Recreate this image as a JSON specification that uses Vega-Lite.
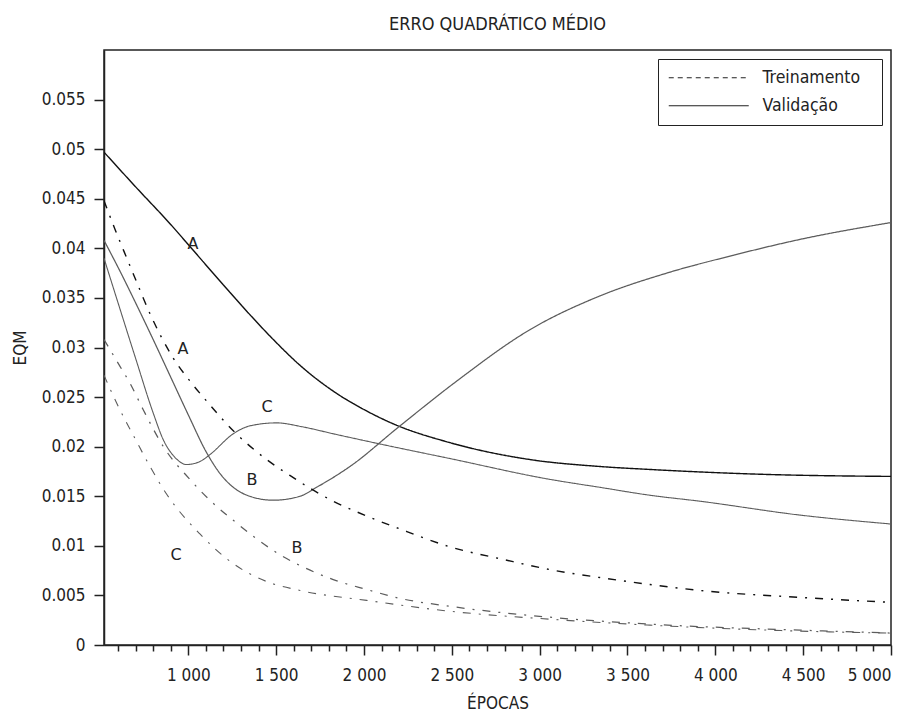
{
  "$schema": "https://vega.github.io/schema/vega-lite/v6.json",
  "width": 787,
  "height": 595,
  "autosize": {"type": "none"},
  "padding": {"left": 104, "top": 50, "right": 24, "bottom": 66},
  "background": "white",
  "title": {"text": "ERRO QUADRÁTICO MÉDIO", "fontSize": 18, "fontWeight": "normal", "color": "#222", "offset": 16, "anchor": "middle"},
  "datasets": {
    "curvas": [
      {"serie": "A", "tipo": "Validação", "epoca": 520, "eqm": 0.0497},
      {"serie": "A", "tipo": "Validação", "epoca": 700, "eqm": 0.0462},
      {"serie": "A", "tipo": "Validação", "epoca": 900, "eqm": 0.0424},
      {"serie": "A", "tipo": "Validação", "epoca": 1028, "eqm": 0.0398},
      {"serie": "A", "tipo": "Validação", "epoca": 1200, "eqm": 0.0363},
      {"serie": "A", "tipo": "Validação", "epoca": 1351, "eqm": 0.0333},
      {"serie": "A", "tipo": "Validação", "epoca": 1484, "eqm": 0.0308},
      {"serie": "A", "tipo": "Validação", "epoca": 1636, "eqm": 0.0282},
      {"serie": "A", "tipo": "Validação", "epoca": 1825, "eqm": 0.0256},
      {"serie": "A", "tipo": "Validação", "epoca": 2015, "eqm": 0.0236},
      {"serie": "A", "tipo": "Validação", "epoca": 2167, "eqm": 0.0223},
      {"serie": "A", "tipo": "Validação", "epoca": 2490, "eqm": 0.0204},
      {"serie": "A", "tipo": "Validação", "epoca": 2945, "eqm": 0.0187},
      {"serie": "A", "tipo": "Validação", "epoca": 3343, "eqm": 0.0180},
      {"serie": "A", "tipo": "Validação", "epoca": 3628, "eqm": 0.0177},
      {"serie": "A", "tipo": "Validação", "epoca": 4292, "eqm": 0.0172},
      {"serie": "A", "tipo": "Validação", "epoca": 5000, "eqm": 0.0170},

      {"serie": "B", "tipo": "Validação", "epoca": 520, "eqm": 0.0408},
      {"serie": "B", "tipo": "Validação", "epoca": 611, "eqm": 0.0377},
      {"serie": "B", "tipo": "Validação", "epoca": 700, "eqm": 0.0345},
      {"serie": "B", "tipo": "Validação", "epoca": 800, "eqm": 0.0308},
      {"serie": "B", "tipo": "Validação", "epoca": 900, "eqm": 0.0270},
      {"serie": "B", "tipo": "Validação", "epoca": 1000, "eqm": 0.0232},
      {"serie": "B", "tipo": "Validação", "epoca": 1104, "eqm": 0.0194},
      {"serie": "B", "tipo": "Validação", "epoca": 1180, "eqm": 0.0173},
      {"serie": "B", "tipo": "Validação", "epoca": 1256, "eqm": 0.0159},
      {"serie": "B", "tipo": "Validação", "epoca": 1350, "eqm": 0.0150},
      {"serie": "B", "tipo": "Validação", "epoca": 1484, "eqm": 0.0146},
      {"serie": "B", "tipo": "Validação", "epoca": 1636, "eqm": 0.0150},
      {"serie": "B", "tipo": "Validação", "epoca": 1730, "eqm": 0.0159},
      {"serie": "B", "tipo": "Validação", "epoca": 1920, "eqm": 0.0180},
      {"serie": "B", "tipo": "Validação", "epoca": 2205, "eqm": 0.0221},
      {"serie": "B", "tipo": "Validação", "epoca": 2527, "eqm": 0.0266},
      {"serie": "B", "tipo": "Validação", "epoca": 2945, "eqm": 0.0318},
      {"serie": "B", "tipo": "Validação", "epoca": 3343, "eqm": 0.0352},
      {"serie": "B", "tipo": "Validação", "epoca": 3723, "eqm": 0.0375},
      {"serie": "B", "tipo": "Validação", "epoca": 4102, "eqm": 0.0393},
      {"serie": "B", "tipo": "Validação", "epoca": 4482, "eqm": 0.0409},
      {"serie": "B", "tipo": "Validação", "epoca": 5000, "eqm": 0.0426},

      {"serie": "C", "tipo": "Validação", "epoca": 520, "eqm": 0.0390},
      {"serie": "C", "tipo": "Validação", "epoca": 600, "eqm": 0.0345},
      {"serie": "C", "tipo": "Validação", "epoca": 700, "eqm": 0.0289},
      {"serie": "C", "tipo": "Validação", "epoca": 800, "eqm": 0.0234},
      {"serie": "C", "tipo": "Validação", "epoca": 860, "eqm": 0.0206},
      {"serie": "C", "tipo": "Validação", "epoca": 920, "eqm": 0.0190},
      {"serie": "C", "tipo": "Validação", "epoca": 990, "eqm": 0.0182},
      {"serie": "C", "tipo": "Validação", "epoca": 1066, "eqm": 0.0185},
      {"serie": "C", "tipo": "Validação", "epoca": 1123, "eqm": 0.0192},
      {"serie": "C", "tipo": "Validação", "epoca": 1256, "eqm": 0.0213},
      {"serie": "C", "tipo": "Validação", "epoca": 1351, "eqm": 0.0221},
      {"serie": "C", "tipo": "Validação", "epoca": 1503, "eqm": 0.0224},
      {"serie": "C", "tipo": "Validação", "epoca": 1650, "eqm": 0.0220},
      {"serie": "C", "tipo": "Validação", "epoca": 1825, "eqm": 0.0213},
      {"serie": "C", "tipo": "Validação", "epoca": 2110, "eqm": 0.0202},
      {"serie": "C", "tipo": "Validação", "epoca": 2490, "eqm": 0.0188},
      {"serie": "C", "tipo": "Validação", "epoca": 3059, "eqm": 0.0167},
      {"serie": "C", "tipo": "Validação", "epoca": 3343, "eqm": 0.0159},
      {"serie": "C", "tipo": "Validação", "epoca": 3628, "eqm": 0.0151},
      {"serie": "C", "tipo": "Validação", "epoca": 3912, "eqm": 0.0145},
      {"serie": "C", "tipo": "Validação", "epoca": 4482, "eqm": 0.0131},
      {"serie": "C", "tipo": "Validação", "epoca": 5000, "eqm": 0.0122},

      {"serie": "A", "tipo": "Treinamento", "epoca": 520, "eqm": 0.0448},
      {"serie": "A", "tipo": "Treinamento", "epoca": 583, "eqm": 0.0419},
      {"serie": "A", "tipo": "Treinamento", "epoca": 650, "eqm": 0.0390},
      {"serie": "A", "tipo": "Treinamento", "epoca": 706, "eqm": 0.0366},
      {"serie": "A", "tipo": "Treinamento", "epoca": 782, "eqm": 0.0334},
      {"serie": "A", "tipo": "Treinamento", "epoca": 905, "eqm": 0.0292},
      {"serie": "A", "tipo": "Treinamento", "epoca": 1028, "eqm": 0.0262},
      {"serie": "A", "tipo": "Treinamento", "epoca": 1104, "eqm": 0.0246},
      {"serie": "A", "tipo": "Treinamento", "epoca": 1256, "eqm": 0.0216},
      {"serie": "A", "tipo": "Treinamento", "epoca": 1446, "eqm": 0.0187},
      {"serie": "A", "tipo": "Treinamento", "epoca": 1578, "eqm": 0.0171},
      {"serie": "A", "tipo": "Treinamento", "epoca": 1825, "eqm": 0.0145},
      {"serie": "A", "tipo": "Treinamento", "epoca": 1949, "eqm": 0.0135},
      {"serie": "A", "tipo": "Treinamento", "epoca": 2205, "eqm": 0.0117},
      {"serie": "A", "tipo": "Treinamento", "epoca": 2490, "eqm": 0.0099},
      {"serie": "A", "tipo": "Treinamento", "epoca": 2800, "eqm": 0.0086},
      {"serie": "A", "tipo": "Treinamento", "epoca": 3059, "eqm": 0.0076},
      {"serie": "A", "tipo": "Treinamento", "epoca": 3343, "eqm": 0.0068},
      {"serie": "A", "tipo": "Treinamento", "epoca": 3628, "eqm": 0.0061},
      {"serie": "A", "tipo": "Treinamento", "epoca": 3912, "eqm": 0.0055},
      {"serie": "A", "tipo": "Treinamento", "epoca": 4482, "eqm": 0.0048},
      {"serie": "A", "tipo": "Treinamento", "epoca": 5000, "eqm": 0.0043},

      {"serie": "B", "tipo": "Treinamento", "epoca": 520, "eqm": 0.0308},
      {"serie": "B", "tipo": "Treinamento", "epoca": 611, "eqm": 0.0281},
      {"serie": "B", "tipo": "Treinamento", "epoca": 668, "eqm": 0.0264},
      {"serie": "B", "tipo": "Treinamento", "epoca": 744, "eqm": 0.0237},
      {"serie": "B", "tipo": "Treinamento", "epoca": 858, "eqm": 0.0200},
      {"serie": "B", "tipo": "Treinamento", "epoca": 1009, "eqm": 0.0167},
      {"serie": "B", "tipo": "Treinamento", "epoca": 1123, "eqm": 0.0146},
      {"serie": "B", "tipo": "Treinamento", "epoca": 1275, "eqm": 0.0123},
      {"serie": "B", "tipo": "Treinamento", "epoca": 1389, "eqm": 0.0107},
      {"serie": "B", "tipo": "Treinamento", "epoca": 1541, "eqm": 0.0089},
      {"serie": "B", "tipo": "Treinamento", "epoca": 1674, "eqm": 0.0077},
      {"serie": "B", "tipo": "Treinamento", "epoca": 1825, "eqm": 0.0066},
      {"serie": "B", "tipo": "Treinamento", "epoca": 2015, "eqm": 0.0056},
      {"serie": "B", "tipo": "Treinamento", "epoca": 2205, "eqm": 0.0047},
      {"serie": "B", "tipo": "Treinamento", "epoca": 2490, "eqm": 0.0039},
      {"serie": "B", "tipo": "Treinamento", "epoca": 3059, "eqm": 0.0028},
      {"serie": "B", "tipo": "Treinamento", "epoca": 3628, "eqm": 0.0021},
      {"serie": "B", "tipo": "Treinamento", "epoca": 4482, "eqm": 0.0015},
      {"serie": "B", "tipo": "Treinamento", "epoca": 5000, "eqm": 0.0012},

      {"serie": "C", "tipo": "Treinamento", "epoca": 520, "eqm": 0.0272},
      {"serie": "C", "tipo": "Treinamento", "epoca": 600, "eqm": 0.0241},
      {"serie": "C", "tipo": "Treinamento", "epoca": 706, "eqm": 0.0205},
      {"serie": "C", "tipo": "Treinamento", "epoca": 782, "eqm": 0.0180},
      {"serie": "C", "tipo": "Treinamento", "epoca": 877, "eqm": 0.0152},
      {"serie": "C", "tipo": "Treinamento", "epoca": 1066, "eqm": 0.0112},
      {"serie": "C", "tipo": "Treinamento", "epoca": 1256, "eqm": 0.0082},
      {"serie": "C", "tipo": "Treinamento", "epoca": 1446, "eqm": 0.0064},
      {"serie": "C", "tipo": "Treinamento", "epoca": 1636, "eqm": 0.0055},
      {"serie": "C", "tipo": "Treinamento", "epoca": 2015, "eqm": 0.0045},
      {"serie": "C", "tipo": "Treinamento", "epoca": 2490, "eqm": 0.0034},
      {"serie": "C", "tipo": "Treinamento", "epoca": 3059, "eqm": 0.0026},
      {"serie": "C", "tipo": "Treinamento", "epoca": 3628, "eqm": 0.0020},
      {"serie": "C", "tipo": "Treinamento", "epoca": 4482, "eqm": 0.0014},
      {"serie": "C", "tipo": "Treinamento", "epoca": 5000, "eqm": 0.0012}
    ],
    "rotulos": [
      {"rotulo": "A", "epoca": 1027, "eqm": 0.0404},
      {"rotulo": "A", "epoca": 970, "eqm": 0.0298},
      {"rotulo": "C", "epoca": 1448, "eqm": 0.0240},
      {"rotulo": "B", "epoca": 1362, "eqm": 0.0166},
      {"rotulo": "B", "epoca": 1619, "eqm": 0.0098},
      {"rotulo": "C", "epoca": 930, "eqm": 0.0091}
    ]
  },
  "encoding": {
    "y": {
      "field": "eqm", "type": "quantitative",
      "scale": {"domain": [0, 0.06], "nice": false, "zero": false},
      "axis": {
        "title": "EQM",
        "values": [0, 0.005, 0.01, 0.015, 0.02, 0.025, 0.03, 0.035, 0.04, 0.045, 0.05, 0.055],
        "format": "~g",
        "tickSize": 10,
        "labelPadding": 9,
        "titlePadding": 12
      }
    }
  },
  "layer": [
    {
      "data": {"name": "curvas"},
      "mark": {"type": "line", "interpolate": "monotone", "clip": true},
      "encoding": {
        "x": {
          "field": "epoca", "type": "quantitative",
          "scale": {"domain": [520, 5000], "nice": false, "zero": false},
          "axis": {
            "title": "ÉPOCAS",
            "orient": "bottom",
            "values": [1000, 1500, 2000, 2500, 3000, 3500, 4000, 4500, 5000],
            "labelExpr": "replace(format(datum.value, ','), ',', ' ')",
            "tickSize": 10,
            "labelPadding": 12,
            "titlePadding": 12
          }
        },
        "detail": {"field": "serie"},
        "stroke": {
          "field": "serie", "type": "nominal",
          "scale": {"domain": ["A", "B", "C"], "range": ["#111111", "#5c5c5c", "#5c5c5c"]},
          "legend": null
        },
        "strokeWidth": {
          "field": "serie", "type": "nominal",
          "scale": {"domain": ["A", "B", "C"], "range": [1.4, 1.1, 1.1]},
          "legend": null
        },
        "strokeDash": {
          "field": "tipo", "type": "nominal",
          "scale": {"domain": ["Treinamento", "Validação"], "range": [[8, 8, 2, 8], [1, 0]]},
          "legend": null
        }
      }
    },
    {
      "data": {"name": "curvas"},
      "mark": {"type": "line", "opacity": 0, "color": "#222", "strokeWidth": 1.2},
      "encoding": {
        "x": {"field": "epoca", "type": "quantitative", "scale": {"domain": [520, 5000], "nice": false, "zero": false}, "axis": null},
        "detail": {"field": "serie"},
        "strokeDash": {
          "field": "tipo", "type": "nominal",
          "scale": {"domain": ["Treinamento", "Validação"], "range": [[5, 4], [1, 0]]},
          "legend": {
            "title": null,
            "orient": "top-right",
            "offset": 9,
            "padding": 10,
            "fillColor": "white",
            "strokeColor": "#222",
            "symbolType": "M-1.6,0H14.4M38.4,0",
            "symbolSize": 100,
            "symbolOpacity": 1,
            "symbolStrokeColor": "#222",
            "symbolStrokeWidth": 1.2,
            "labelOffset": 77,
            "labelFontSize": 17.5,
            "labelColor": "#222",
            "rowPadding": 9
          }
        }
      }
    },
    {
      "data": {"name": "rotulos"},
      "mark": {"type": "text", "fontSize": 16, "color": "#222", "font": "DejaVu Sans", "align": "center", "baseline": "middle"},
      "encoding": {
        "x": {
          "field": "epoca", "type": "quantitative",
          "scale": {"domain": [520, 5000], "nice": false, "zero": false},
          "axis": {
            "title": null,
            "orient": "bottom",
            "values": [600, 700, 800, 900, 1100, 1200, 1300, 1400, 1600, 1700, 1800, 1900, 2100, 2200, 2300, 2400, 2600, 2700, 2800, 2900, 3100, 3200, 3300, 3400, 3600, 3700, 3800, 3900, 4100, 4200, 4300, 4400, 4600, 4700, 4800, 4900],
            "labels": false,
            "domain": false,
            "tickSize": 6
          }
        },
        "text": {"field": "rotulo"}
      }
    }
  ],
  "resolve": {"axis": {"x": "independent"}, "scale": {"strokeDash": "independent"}},
  "config": {
    "font": "DejaVu Sans Condensed, Liberation Sans Narrow, DejaVu Sans",
    "view": {"stroke": "#222", "strokeWidth": 1.5},
    "axis": {
      "grid": false,
      "domainColor": "#222",
      "domainWidth": 1.5,
      "tickColor": "#222",
      "tickWidth": 1.5,
      "labelColor": "#222",
      "titleColor": "#222",
      "labelFontSize": 17,
      "titleFontSize": 17,
      "titleFontWeight": "normal"
    }
  }
}
